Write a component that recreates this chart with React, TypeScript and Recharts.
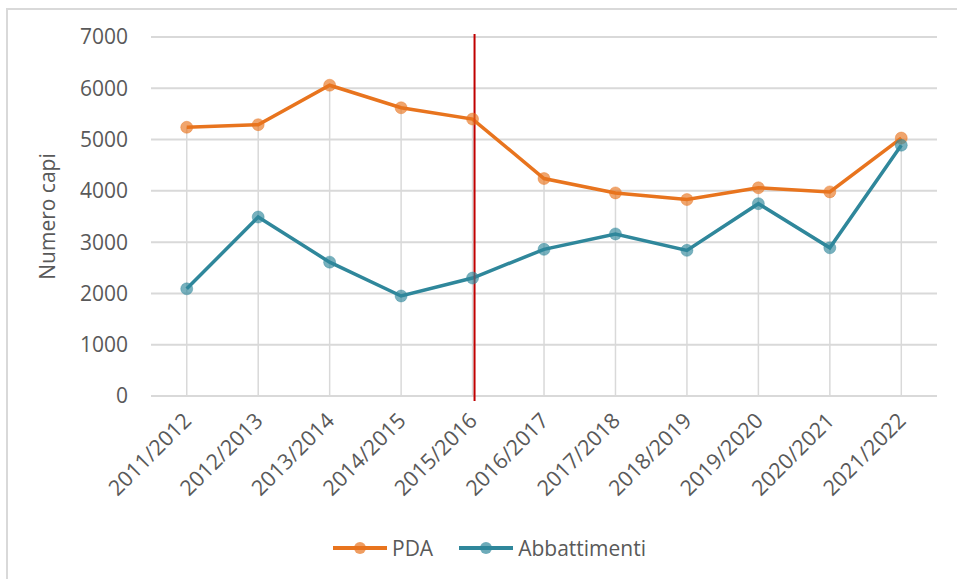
import React from "react";
import {
    ComposedChart,
    Line,
    Bar,
    XAxis,
    YAxis,
    CartesianGrid,
    Legend,
    ReferenceLine,
} from "recharts";

const seasons = [
    "2011/2012",
    "2012/2013",
    "2013/2014",
    "2014/2015",
    "2015/2016",
    "2016/2017",
    "2017/2018",
    "2018/2019",
    "2019/2020",
    "2020/2021",
    "2021/2022",
];
const pda = [5240, 5290, 6060, 5620, 5400, 4240, 3960, 3830, 4060, 3980, 5030];
const abbattimenti = [2090, 3490, 2610, 1950, 2300, 2860, 3160, 2840, 3750, 2890, 4890];
const yTicks = [0, 1000, 2000, 3000, 4000, 5000, 6000, 7000];
const markerSeason = "2015/2016";

const ORANGE = "#E8741E";
const TEAL = "#2F879B";
const GRID = "#d9d9d9";
const TEXT = "#595959";
const FONT = "'Open Sans', sans-serif";

const data = seasons.map((s, i) => ({
    season: s,
    pda: pda[i],
    abbattimenti: abbattimenti[i],
    drop: Math.max(pda[i], abbattimenti[i]),
}));

const series = [
    { key: "pda", name: "PDA", color: ORANGE },
    { key: "abbattimenti", name: "Abbattimenti", color: TEAL },
];

const SeasonTick = ({ x, y, payload }: any) => (
    <g transform={`translate(${x + 6},${y + 18})`}>
        <text textAnchor="end" transform="rotate(-45)" fill={TEXT} fontSize={21.5} fontFamily={FONT}>
            {payload.value}
        </text>
    </g>
);

const YLabel = ({ viewBox }: any) => {
    const cy = viewBox.y + viewBox.height / 2;
    return (
        <text
            x={55}
            y={cy}
            transform={`rotate(-90, 55, ${cy})`}
            textAnchor="middle"
            fill={TEXT}
            fontSize={21}
            fontFamily={FONT}
        >
            Numero capi
        </text>
    );
};

const RedLine = ({ x1, y1, y2 }: any) => (
    <line x1={x1 + 2} x2={x1 + 2} y1={Math.min(y1, y2) - 3} y2={Math.max(y1, y2) + 5} stroke="#C00000" strokeWidth={2} />
);

const LegendContent = () => (
    <div style={{ display: "flex", alignItems: "center", fontFamily: FONT, fontSize: 21, color: TEXT }}>
        {series.map((s) => (
            <div key={s.key} style={{ display: "flex", alignItems: "center", marginRight: 26 }}>
                <svg width={54} height={16}>
                    <line x1={0} x2={54} y1={8} y2={8} stroke={s.color} strokeWidth={4} />
                    <circle cx={27} cy={8} r={6} fill={s.color} fillOpacity={0.7} />
                </svg>
                <span style={{ marginLeft: 5, lineHeight: "24px" }}>{s.name}</span>
            </div>
        ))}
    </div>
);

export default function App() {
    return (
        <div style={{ position: "fixed", top: 0, left: 0, width: 957, height: 579, background: "#fff", overflow: "hidden" }}>
            <div
                style={{
                    position: "absolute",
                    left: 6,
                    top: 8,
                    width: 1000,
                    height: 1000,
                    border: `2px solid ${GRID}`,
                }}
            />
            <ComposedChart
                width={957}
                height={579}
                data={data}
                margin={{ top: 37, right: 20, left: 0, bottom: 0 }}
                style={{ position: "absolute", top: 0, left: 0 }}
            >
                <CartesianGrid vertical={false} stroke={GRID} strokeWidth={2} />
                <XAxis
                    dataKey="season"
                    interval={0}
                    axisLine={false}
                    tickLine={false}
                    height={183}
                    tick={<SeasonTick />}
                />
                <YAxis
                    width={151}
                    domain={[0, 7000]}
                    ticks={yTicks}
                    axisLine={false}
                    tickLine={false}
                    tickSize={0}
                    tickMargin={23}
                    tick={{ fill: TEXT, fontSize: 21, fontFamily: FONT }}
                    label={<YLabel />}
                />
                <Bar dataKey="drop" barSize={1.5} fill={GRID} legendType="none" isAnimationActive={false} />
                {series.map((s) => (
                    <Line
                        key={s.key}
                        type="linear"
                        dataKey={s.key}
                        name={s.name}
                        stroke={s.color}
                        strokeWidth={3.5}
                        dot={{ r: 6, fill: s.color, fillOpacity: 0.65, stroke: s.color, strokeOpacity: 0.4, strokeWidth: 1 }}
                        activeDot={false}
                        isAnimationActive={false}
                    />
                ))}
                <ReferenceLine x={markerSeason} shape={<RedLine />} />
                <Legend
                    layout="horizontal"
                    verticalAlign="middle"
                    align="center"
                    content={<LegendContent />}
                    wrapperStyle={{ top: 536, left: 333, width: 420 }}
                />
            </ComposedChart>
        </div>
    );
}
